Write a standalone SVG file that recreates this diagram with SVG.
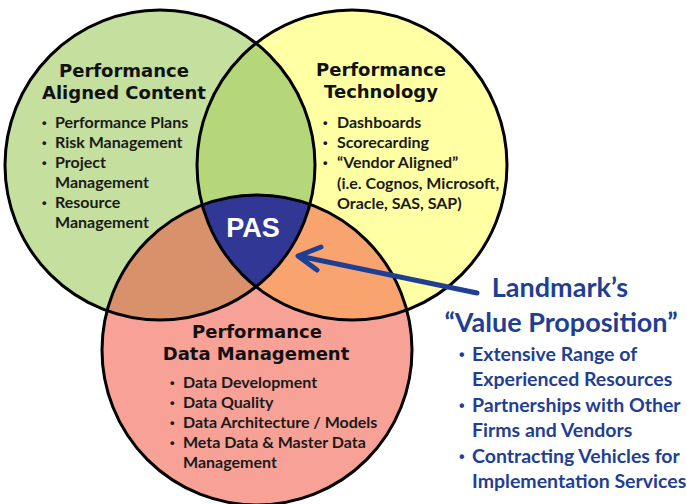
<svg xmlns="http://www.w3.org/2000/svg" width="687" height="504" viewBox="0 0 687 504">
<style>
.title{font-family:"DejaVu Sans",Verdana,sans-serif;font-weight:bold;font-size:18px;fill:#111;text-anchor:middle}
.item{font-family:Lato,"Liberation Sans",sans-serif;font-weight:bold;font-size:16px;fill:#1a1a1a}
.bul{font-family:"Liberation Sans",sans-serif;font-weight:bold;font-size:13px;fill:#1a1a1a}
.blue{font-family:Lato,"Liberation Sans",sans-serif;font-weight:bold;fill:#1f3f94}
.bbul{font-family:"Liberation Sans",sans-serif;font-weight:bold;font-size:16px;fill:#1f3f94}
.ring{fill:none;stroke:#000;stroke-width:3}
.arrow{fill:none;stroke:#1f3e95;stroke-width:5;stroke-linecap:round;stroke-linejoin:round}
</style>
<defs>
<clipPath id="cG"><circle cx="160" cy="165" r="155"/></clipPath>
<clipPath id="cY"><circle cx="352" cy="165" r="155"/></clipPath>
</defs>
<rect width="687" height="504" fill="#fff"/>
<g id="fills">
<circle cx="160" cy="165" r="155" fill="#c4df9e"/>
<circle cx="352" cy="165" r="155" fill="#ffffa3"/>
<circle cx="257" cy="350" r="155" fill="#f8a197"/>
<g clip-path="url(#cG)"><circle cx="352" cy="165" r="155" fill="#b5d77a"/><circle cx="257" cy="350" r="155" fill="#d9916b"/></g>
<g clip-path="url(#cY)"><circle cx="257" cy="350" r="155" fill="#f9a46f"/></g>
<g clip-path="url(#cG)"><g clip-path="url(#cY)"><circle cx="257" cy="350" r="155" fill="#313795"/></g></g>
<circle class="ring" cx="160" cy="165" r="155"/>
<circle class="ring" cx="352" cy="165" r="155"/>
<circle class="ring" cx="257" cy="350" r="155"/>
</g>
<g id="content">
<text class="title" x="124" y="77">Performance</text>
<text class="title" x="124" y="99">Aligned Content</text>
<text class="bul" x="42" y="127">•</text><text class="item" x="55" y="128">Performance Plans</text>
<text class="bul" x="42" y="147">•</text><text class="item" x="55" y="148">Risk Management</text>
<text class="bul" x="42" y="167">•</text><text class="item" x="55" y="168">Project</text>
<text class="item" x="55" y="188">Management</text>
<text class="bul" x="42" y="207">•</text><text class="item" x="55" y="208">Resource</text>
<text class="item" x="55" y="228">Management</text>
</g>
<g id="technology">
<text class="title" x="381" y="76">Performance</text>
<text class="title" x="381" y="98">Technology</text>
<text class="bul" x="323" y="127">•</text><text class="item" x="337" y="128">Dashboards</text>
<text class="bul" x="323" y="147">•</text><text class="item" x="337" y="148">Scorecarding</text>
<text class="bul" x="323" y="167">•</text><text class="item" x="337" y="168">“Vendor Aligned”</text>
<text class="item" x="337" y="189">(i.e. Cognos, Microsoft,</text>
<text class="item" x="337" y="209">Oracle, SAS, SAP)</text>
</g>
<g id="data">
<text class="title" x="257" y="338">Performance</text>
<text class="title" x="256" y="360">Data Management</text>
<text class="bul" x="170" y="387">•</text><text class="item" x="183" y="388">Data Development</text>
<text class="bul" x="170" y="407">•</text><text class="item" x="183" y="408">Data Quality</text>
<text class="bul" x="170" y="427">•</text><text class="item" x="183" y="428">Data Architecture / Models</text>
<text class="bul" x="170" y="447">•</text><text class="item" x="183" y="448">Meta Data &amp; Master Data</text>
<text class="item" x="183" y="468">Management</text>
</g>
<g id="pas">
<text x="253" y="237" font-family="Liberation Sans,Arial,sans-serif" font-weight="bold" font-size="27" fill="#fff" text-anchor="middle">PAS</text>
</g>
<g id="connectors">
<line class="arrow" x1="477" y1="293" x2="299" y2="256"/>
<polyline class="arrow" points="321,247 298,256 317,270"/>
</g>
<g id="value">
<text class="blue" x="560" y="297" font-size="27" text-anchor="middle">Landmark’s</text>
<text class="blue" x="561" y="332" font-size="27" text-anchor="middle">“Value Proposition”</text>
<text class="bbul" x="459" y="360">•</text><text class="blue" x="472" y="361" font-size="19.5">Extensive Range of</text>
<text class="blue" x="472" y="386" font-size="19.5">Experienced Resources</text>
<text class="bbul" x="459" y="411">•</text><text class="blue" x="472" y="412" font-size="19.5">Partnerships with Other</text>
<text class="blue" x="472" y="437" font-size="19.5">Firms and Vendors</text>
<text class="bbul" x="459" y="462">•</text><text class="blue" x="472" y="463" font-size="19.5">Contracting Vehicles for</text>
<text class="blue" x="472" y="488" font-size="19.5">Implementation Services</text>
</g>
</svg>
